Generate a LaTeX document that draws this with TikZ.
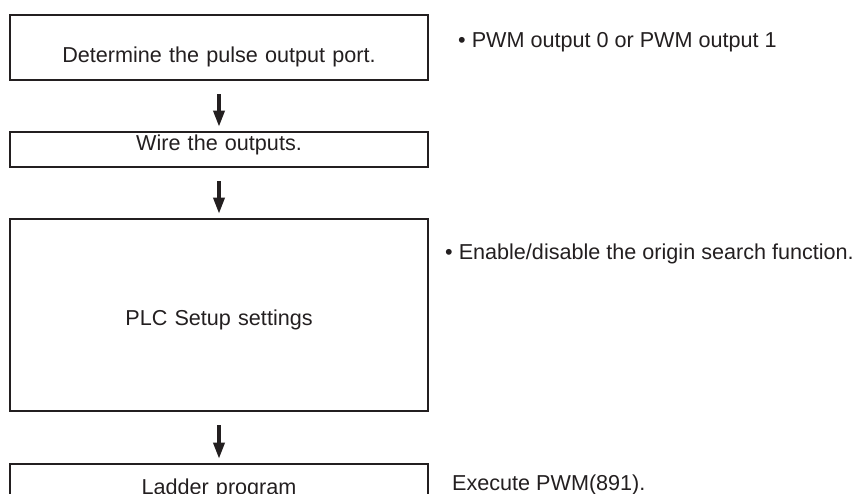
\documentclass[tikz,border=0pt]{standalone}
\usepackage{fontspec}
\setmainfont{Liberation Sans}
\usetikzlibrary{arrows.meta}
\definecolor{flowInk}{HTML}{231F20}

\begin{document}
\begin{tikzpicture}[x=1pt,y=-1pt,
    font=\fontsize{21.6}{26}\selectfont,
    stepbox/.style={draw=flowInk,line width=2.6pt,inner sep=0pt,
                    minimum width=418pt,text width=418pt,align=center,
                    anchor=base,text=flowInk},
    sidenote/.style={anchor=base west,inner sep=0pt,text=flowInk},
    flow/.style={draw=flowInk,line width=3.4pt,
                 -{Triangle[length=16pt,width=11pt]},
                 shorten <=13pt,shorten >=4pt}]
  \useasboundingbox (0,0) rectangle (853,493);
  \clip (0,0) rectangle (853,493);

  % steps (text height/depth place the text inside each box)
  \node[stepbox,text height=47pt,text depth=18pt] (port) at (219,62)
    {Determine the pulse output port.};
  \node[stepbox,text height=18pt,text depth=17pt] (wire) at (219,150)
    {Wire the outputs.};
  \node[stepbox,text height=106pt,text depth=86pt] (setup) at (219,325)
    {PLC Setup settings};
  \node[stepbox,text height=30pt,text depth=34pt] (ladder) at (219,494)
    {Ladder program};

  \draw[flow] (port.south) -- (wire.north);
  \draw[flow] (wire.south) -- (setup.north);
  \draw[flow] (setup.south) -- (ladder.north);

  % notes
  \node[sidenote] (portnote) at (458,47)
    {\textbullet\ PWM output 0 or PWM output 1};
  \node[sidenote] (setupnote) at (445,259)
    {\textbullet\ Enable/disable the origin search function.};
  \node[sidenote] (laddernote) at (452,490) {Execute PWM(891).};
\end{tikzpicture}
\end{document}
